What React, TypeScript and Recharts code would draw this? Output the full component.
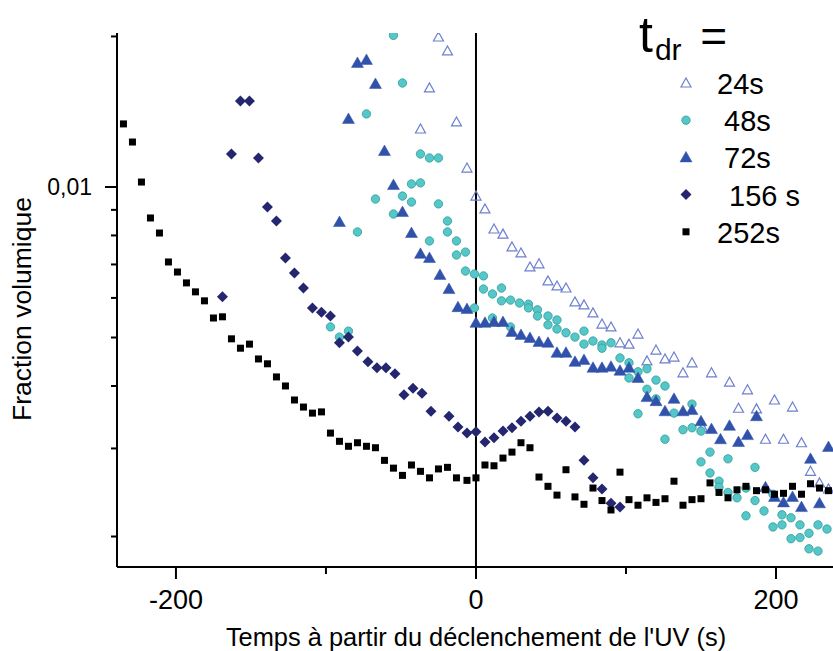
import { ReferenceLine, Scatter, ScatterChart, XAxis, YAxis } from 'recharts'

// [time (s), volume fraction]
const s24: [number, number][] = [
	[-37, 0.01306], [-31, 0.01578], [-25, 0.01995], [-19, 0.01871], [-13, 0.01349], [-6, 0.01091],
	[0, 0.00959], [6, 0.00904], [12, 0.00824], [18, 0.00805], [24, 0.00759], [30, 0.00738],
	[36, 0.00692], [42, 0.00702], [48, 0.00649], [54, 0.00634], [60, 0.00628], [66, 0.00589],
	[72, 0.00581], [78, 0.0056], [84, 0.00532], [90, 0.00525], [96, 0.00488], [102, 0.00485],
	[108, 0.00508], [114, 0.00449], [120, 0.00472], [126, 0.00453], [132, 0.00457], [138, 0.00425],
	[144, 0.00445], [151, 0.0033], [157, 0.00425], [169, 0.00407], [175, 0.00361], [181, 0.00393],
	[187, 0.0036], [193, 0.00313], [199, 0.00375], [205, 0.00313], [211, 0.00363], [217, 0.00308],
	[223, 0.0027], [229, 0.00256], [235, 0.00249],
]

const s48: [number, number][] = [
	[-97, 0.00525], [-91, 0.00501], [-85, 0.00515], [-79, 0.00813], [-73, 0.014], [-67, 0.00946],
	[-55, 0.0201], [-55, 0.00883], [-49, 0.01614], [-49, 0.00959], [-43, 0.01014], [-43, 0.00933],
	[-37, 0.01164], [-37, 0.01019], [-31, 0.01143], [-31, 0.0078], [-25, 0.01143], [-25, 0.00925],
	[-19, 0.00855], [-19, 0.00813], [-13, 0.0078], [-13, 0.00731], [-7, 0.00741], [-7, 0.00679],
	[-1, 0.0067], [-1, 0.00573], [5, 0.00664], [5, 0.00625], [11, 0.00611], [11, 0.00547],
	[17, 0.00628], [17, 0.00592], [23, 0.00594], [23, 0.00525], [29, 0.00586], [35, 0.00583],
	[35, 0.00573], [41, 0.00568], [41, 0.00552], [48, 0.00552], [48, 0.0053], [54, 0.00542],
	[54, 0.0052], [60, 0.00511], [66, 0.00501], [72, 0.00515], [72, 0.00485], [78, 0.00492],
	[84, 0.00483], [84, 0.00476], [90, 0.00488], [96, 0.00455], [102, 0.00445], [102, 0.00415],
	[108, 0.00427], [108, 0.00352], [114, 0.00433], [114, 0.00394], [120, 0.00411], [120, 0.00377],
	[126, 0.004], [126, 0.00313], [132, 0.00353], [138, 0.00327], [144, 0.00368], [144, 0.0033],
	[150, 0.00325], [150, 0.00282], [156, 0.00295], [156, 0.00268], [162, 0.00258], [162, 0.00251],
	[168, 0.00286], [168, 0.00245], [174, 0.00239], [180, 0.0025], [180, 0.0022], [186, 0.00275],
	[186, 0.00236], [192, 0.00225], [198, 0.00243], [198, 0.00209], [204, 0.00221], [204, 0.00211],
	[210, 0.00218], [210, 0.00198], [216, 0.00211], [216, 0.00199], [222, 0.00203], [222, 0.00189],
	[228, 0.00211], [228, 0.00187], [234, 0.00207],
]

const s72: [number, number][] = [
	[-91, 0.00851], [-85, 0.01368], [-79, 0.0177], [-73, 0.01795], [-67, 0.01607], [-61, 0.0118],
	[-55, 0.01009], [-49, 0.00891], [-43, 0.00809], [-37, 0.00735], [-31, 0.00721], [-24, 0.00667],
	[-18, 0.00625], [-12, 0.00575], [-6, 0.0057], [0, 0.00535], [6, 0.00535], [12, 0.00537],
	[18, 0.00537], [24, 0.00513], [30, 0.00506], [36, 0.00499], [42, 0.0049], [48, 0.00488],
	[54, 0.00466], [60, 0.00466], [66, 0.00447], [72, 0.00451], [78, 0.00435], [84, 0.00435],
	[90, 0.00437], [96, 0.00429], [102, 0.00435], [108, 0.00415], [114, 0.0038], [120, 0.00373],
	[126, 0.00356], [132, 0.00377], [138, 0.00356], [144, 0.00358], [150, 0.0034], [157, 0.00328],
	[163, 0.00313], [169, 0.00333], [175, 0.00309], [181, 0.00319], [187, 0.00348], [193, 0.00251],
	[199, 0.0024], [205, 0.00234], [211, 0.0024], [217, 0.00229], [223, 0.00286], [229, 0.00233],
	[235, 0.00302],
]

const s156: [number, number][] = [
	[-169, 0.00603], [-163, 0.01164], [-157, 0.01486], [-151, 0.01486], [-145, 0.01143], [-139, 0.00912],
	[-133, 0.00855], [-127, 0.00721], [-121, 0.00673], [-115, 0.00628], [-109, 0.00573], [-103, 0.00562],
	[-97, 0.00552], [-91, 0.00488], [-85, 0.00501], [-79, 0.0047], [-72, 0.00447], [-66, 0.00435],
	[-60, 0.00435], [-54, 0.00423], [-48, 0.00384], [-42, 0.00396], [-36, 0.00387], [-30, 0.00356],
	[-18, 0.00348], [-12, 0.00331], [-6, 0.00322], [0, 0.00324], [6, 0.00309], [12, 0.00315],
	[18, 0.00325], [24, 0.0033], [30, 0.0034], [36, 0.00348], [42, 0.00355], [48, 0.00356],
	[54, 0.00345], [60, 0.0034], [66, 0.00331], [72, 0.00284], [78, 0.00262], [84, 0.00249],
	[90, 0.00233], [96, 0.00229],
]

const s252: [number, number][] = [
	[-235, 0.01337], [-229, 0.0123], [-223, 0.01023], [-217, 0.00867], [-211, 0.00809], [-205, 0.00708],
	[-199, 0.00676], [-193, 0.00643], [-187, 0.00617], [-181, 0.00592], [-175, 0.00547], [-169, 0.0055],
	[-163, 0.00497], [-157, 0.00476], [-151, 0.00485], [-145, 0.00453], [-139, 0.00443], [-133, 0.00417],
	[-127, 0.004], [-121, 0.00375], [-115, 0.00363], [-109, 0.00353], [-103, 0.00355], [-97, 0.00322],
	[-91, 0.0031], [-85, 0.00303], [-79, 0.00308], [-73, 0.00303], [-67, 0.00301], [-61, 0.00284],
	[-55, 0.00274], [-49, 0.00265], [-43, 0.00278], [-37, 0.0027], [-31, 0.00262], [-25, 0.00273],
	[-19, 0.00275], [-13, 0.00262], [-6, 0.00259], [0, 0.00262], [6, 0.00278], [12, 0.00277],
	[18, 0.00287], [24, 0.00295], [30, 0.00308], [36, 0.00301], [42, 0.00263], [48, 0.00252],
	[54, 0.00242], [60, 0.00272], [66, 0.0024], [72, 0.00232], [78, 0.0025], [84, 0.00236],
	[90, 0.00226], [96, 0.00269], [102, 0.00237], [108, 0.00231], [114, 0.00239], [120, 0.00234],
	[126, 0.00238], [132, 0.00258], [138, 0.00231], [144, 0.00237], [150, 0.00238], [156, 0.00256],
	[162, 0.00245], [168, 0.00239], [174, 0.00248], [180, 0.00252], [187, 0.00247], [193, 0.00248],
	[199, 0.00243], [205, 0.00244], [211, 0.00252], [217, 0.00243], [223, 0.00255], [229, 0.0025],
	[235, 0.00247],
]

const xTicks = [-200, -100, 0, 100, 200]
const xLabels = [-200, 0, 200]
const yTicks = [0.002, 0.003, 0.004, 0.005, 0.006, 0.007, 0.008, 0.009, 0.01, 0.02]
const legendLabels = ['24s', '48s', '72s', '156 s', '252s']

const FONT = "'Liberation Sans', Arial, sans-serif"

const toPoints = (s: [number, number][]) => s.map(([t, v]) => ({ t, v }))

const OpenTriangle = ({ cx, cy }: any) => (
	<polygon
		points={`${cx},${cy - 5} ${cx - 5},${cy + 4} ${cx + 5},${cy + 4}`}
		fill='none'
		stroke='#6d7fd0'
		strokeWidth={1.2}
	/>
)
const Dot = ({ cx, cy }: any) => (
	<circle cx={cx} cy={cy} r={4.2} fill='#55c6ca' stroke='#2f9f93' strokeWidth={0.8} />
)
const Triangle = ({ cx, cy }: any) => (
	<polygon
		points={`${cx},${cy - 6} ${cx - 6},${cy + 4.5} ${cx + 6},${cy + 4.5}`}
		fill='#3052aa'
		stroke='#3052aa'
		strokeWidth={0.5}
	/>
)
const Diamond = ({ cx, cy }: any) => (
	<polygon
		points={`${cx},${cy - 5.5} ${cx + 5.5},${cy} ${cx},${cy + 5.5} ${cx - 5.5},${cy}`}
		fill='#24276f'
	/>
)
const Square = ({ cx, cy }: any) => <rect x={cx - 3.5} y={cy - 3.5} width={7} height={7} fill='#000' />

const markers = [OpenTriangle, Dot, Triangle, Diamond, Square]

const XTick = ({ x, y, payload }: any) => {
	const major = xLabels.includes(payload.value)
	return (
		<g>
			<line x1={x} x2={x} y1={y} y2={y + (major ? 12 : 7)} stroke='#000' strokeWidth={2} />
			{major && (
				<text x={x} y={y + 42} textAnchor='middle' fontSize={27} fontFamily={FONT} fill='#000'>
					{payload.value}
				</text>
			)}
		</g>
	)
}

const YTick = ({ x, y, payload }: any) => {
	const major = payload.value === 0.01
	return (
		<g>
			<line x1={x - (major ? 12 : 6)} x2={x} y1={y} y2={y} stroke='#000' strokeWidth={2} />
			{major && (
				<text x={x - 25} y={y + 8} textAnchor='end' fontSize={23} fontFamily={FONT} fill='#000'>
					0,01
				</text>
			)}
		</g>
	)
}

export default function App() {
	return (
		<div style={{ position: 'absolute', left: 0, top: 0, width: 833, height: 651, background: '#fff' }}>
			<ScatterChart width={833} height={651} margin={{ top: 33, right: 0, bottom: 0, left: 0 }}>
				<XAxis
					type='number'
					dataKey='t'
					domain={[-239.3, 238]}
					allowDataOverflow
					ticks={xTicks}
					interval={0}
					height={84}
					tickSize={0}
					tickMargin={0}
					tickLine={false}
					tick={<XTick />}
					axisLine={{ stroke: '#000', strokeWidth: 2 }}
				/>
				<YAxis
					type='number'
					dataKey='v'
					scale='log'
					domain={[0.001738, 0.02032]}
					allowDataOverflow
					ticks={yTicks}
					interval={0}
					width={117}
					tickSize={0}
					tickMargin={0}
					tickLine={false}
					tick={<YTick />}
					axisLine={{ stroke: '#000', strokeWidth: 2 }}
				/>
				<ReferenceLine x={0} stroke='#000' strokeWidth={2} />
				{[s24, s48, s72, s156, s252].map((s, i) => {
					const Marker = markers[i]
					return (
						<Scatter
							key={legendLabels[i]}
							name={legendLabels[i]}
							data={toPoints(s)}
							shape={(p: any) => <Marker cx={p.cx} cy={p.cy} />}
							isAnimationActive={false}
						/>
					)
				})}
			</ScatterChart>
			<svg
				width={833}
				height={651}
				style={{ position: 'absolute', left: 0, top: 0, pointerEvents: 'none' }}
				fontFamily={FONT}
			>
				<text transform='translate(22,309) rotate(-90)' textAnchor='middle' dy='0.35em' fontSize={26.5}>
					Fraction volumique
				</text>
				<text x={476} y={646} textAnchor='middle' fontSize={25.4}>
					Temps à partir du déclenchement de l'UV (s)
				</text>
				<text x={639} y={52} fontSize={50}>
					t<tspan fontSize={30} dx={2} dy={8}>dr</tspan>
					<tspan fontSize={46} dx={6} dy={-8}> =</tspan>
				</text>
				{legendLabels.map((label, i) => {
					const Marker = markers[i]
					const cy = 83 + i * 37.2
					return (
						<g key={label}>
							<Marker cx={686} cy={cy} />
							<text x={[717, 724, 724, 729, 717][i]} y={cy + 11} fontSize={29}>
								{label}
							</text>
						</g>
					)
				})}
			</svg>
		</div>
	)
}
